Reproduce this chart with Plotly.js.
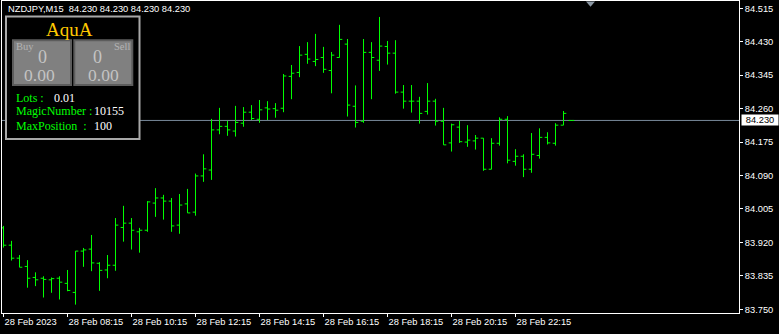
<!DOCTYPE html>
<html>
<head>
<meta charset="utf-8">
<script src="https://cdn.plot.ly/plotly-3.0.1.min.js"></script>
<style>html,body{margin:0;padding:0;background:#000;}#chart{width:779px;height:334px;}</style>
</head>
<body>
<div id="chart"></div>
<script>
// ---- data (NZDJPY, M15, 28 Feb 2023) ----
const times = ['06:15','06:30','06:45','07:00','07:15','07:30','07:45','08:00',
 '08:15','08:30','08:45','09:00','09:15','09:30','09:45','10:00',
 '10:15','10:30','10:45','11:00','11:15','11:30','11:45','12:00',
 '12:15','12:30','12:45','13:00','13:15','13:30','13:45','14:00',
 '14:15','14:30','14:45','15:00','15:15','15:30','15:45','16:00',
 '16:15','16:30','16:45','17:00','17:15','17:30','17:45','18:00',
 '18:15','18:30','18:45','19:00','19:15','19:30','19:45','20:00',
 '20:15','20:30','20:45','21:00','21:15','21:30','21:45','22:00',
 '22:15','22:30','22:45','23:00','23:15','23:30','23:45','00:00'];

const openP = [83.957,83.913,83.880,83.859,83.831,83.829,83.825,83.829,83.816,83.793,
 83.898,83.903,83.867,83.850,83.862,83.958,83.969,83.947,83.951,84.020,
 84.033,84.025,83.964,84.018,83.997,84.089,84.104,84.206,84.215,84.203,
 84.223,84.251,84.233,84.262,84.260,84.261,84.342,84.352,84.398,84.380,
 84.390,84.357,84.390,84.424,84.266,84.228,84.403,84.383,84.418,84.401,
 84.302,84.279,84.279,84.253,84.279,84.228,84.173,84.213,84.175,84.178,
 84.185,84.106,84.172,84.233,84.126,84.139,84.106,84.141,84.187,84.172,
 84.218,84.230];

const highP = [83.962,83.924,83.888,83.875,83.844,83.834,83.831,83.834,83.850,83.898,
 83.906,83.939,83.870,83.888,83.982,84.013,83.982,83.957,84.025,84.058,
 84.041,84.033,84.043,84.056,84.095,84.144,84.234,84.262,84.229,84.267,
 84.264,84.269,84.282,84.279,84.274,84.348,84.371,84.419,84.429,84.450,
 84.417,84.404,84.473,84.437,84.319,84.437,84.429,84.493,84.432,84.434,
 84.320,84.320,84.290,84.325,84.285,84.262,84.222,84.229,84.218,84.193,
 84.185,84.185,84.238,84.241,84.157,84.144,84.198,84.210,84.200,84.223,
 84.254,84.230];

const lowP = [83.907,83.874,83.857,83.805,83.809,83.780,83.792,83.775,83.796,83.762,
 83.858,83.847,83.797,83.829,83.848,83.922,83.902,83.894,83.947,83.985,
 83.978,83.947,83.942,83.995,83.988,84.074,84.079,84.195,84.191,84.189,
 84.214,84.231,84.224,84.231,84.237,84.251,84.284,84.340,84.374,84.368,
 84.351,84.299,84.390,84.240,84.212,84.224,84.284,84.356,84.372,84.298,
 84.260,84.250,84.222,84.245,84.217,84.168,84.151,84.173,84.163,84.156,
 84.102,84.106,84.166,84.121,84.115,84.086,84.097,84.133,84.169,84.166,
 84.218,84.230];

const closeP = [83.913,83.880,83.857,83.829,83.825,83.826,83.828,83.819,83.798,83.898,
 83.901,83.868,83.849,83.862,83.964,83.969,83.951,83.951,84.023,84.033,
 84.025,83.962,84.015,83.995,84.089,84.107,84.206,84.215,84.206,84.225,
 84.251,84.235,84.257,84.259,84.256,84.343,84.350,84.396,84.386,84.385,
 84.360,84.396,84.436,84.269,84.225,84.403,84.390,84.419,84.401,84.302,
 84.279,84.279,84.248,84.279,84.228,84.168,84.219,84.176,84.180,84.185,
 84.106,84.172,84.233,84.129,84.139,84.106,84.144,84.187,84.173,84.218,
 84.248,84.230];

const xTickVals = ['06:15','08:15','10:15','12:15','14:15','16:15','18:15','20:15','22:15'];
const xTickText = ['28 Feb 2023','28 Feb 08:15','28 Feb 10:15','28 Feb 12:15','28 Feb 14:15',
 '28 Feb 16:15','28 Feb 18:15','28 Feb 20:15','28 Feb 22:15'];
const yTickVals = [84.515,84.430,84.345,84.260,84.175,84.090,84.005,83.920,83.835,83.750];
const yTickText = ['84.515','84.430','84.345','84.260','84.175','84.090','84.005','83.920','83.835','83.750'];
const bidPrice = 84.230;
const headerText = 'NZDJPY,M15\u00a0\u00a084.230 84.230 84.230 84.230';

// ---- layout helpers (pixel -> paper) ----
const W = 779, H = 334, ML = 2, MR = 40, MT = 1, MB = 21;
const PW = W - ML - MR, PH = H - MT - MB;
const P = x => (x - ML) / PW;
const Q = y => (H - MB - y) / PH;

const sans = 'Liberation Sans, Arial, sans-serif';
const serif = 'Liberation Serif, Times New Roman, serif';
const green = '#00ff00';

function txt(t, x, y, size, color, fam, anchor) {
  return {text: t, x: P(x), y: Q(y), xref: 'paper', yref: 'paper', showarrow: false,
    xanchor: anchor || 'left', yanchor: 'middle', borderpad: 0,
    font: {family: fam || serif, size: size, color: color}};
}

const trace = {
  type: 'ohlc', x: times, open: openP, high: highP, low: lowP, close: closeP,
  increasing: {line: {color: green, width: 1}},
  decreasing: {line: {color: green, width: 1}},
  tickwidth: 0.35, hoverinfo: 'skip'
};

const layout = {
  width: W, height: H,
  margin: {l: ML, r: MR, t: MT, b: MB, pad: 0},
  paper_bgcolor: '#000', plot_bgcolor: '#000',
  showlegend: false,
  xaxis: {
    type: 'category', range: [-0.1875, PW / 8 - 0.1875],
    rangeslider: {visible: false},
    showgrid: false, zeroline: false,
    showline: true, linecolor: '#ffffff', linewidth: 1, mirror: true,
    ticks: 'outside', ticklen: 3, tickcolor: '#ffffff', tickwidth: 1,
    tickmode: 'array', tickvals: xTickVals, ticktext: xTickText,
    ticklabelposition: 'outside right',
    tickfont: {family: sans, size: 9.3, color: '#ffffff'}
  },
  yaxis: {
    side: 'right', range: [84.5361 - (H - MB) / 393.5, 84.5361 - MT / 393.5],
    showgrid: false, zeroline: false,
    showline: true, linecolor: '#ffffff', linewidth: 1, mirror: true,
    ticks: 'outside', ticklen: 3, tickcolor: '#ffffff', tickwidth: 1,
    tickmode: 'array', tickvals: yTickVals, ticktext: yTickText,
    tickfont: {family: sans, size: 9.3, color: '#ffffff'}
  },
  shapes: [
    {type: 'line', xref: 'paper', yref: 'y', x0: 0, x1: 1, y0: bidPrice, y1: bidPrice,
     line: {color: '#778899', width: 1}, layer: 'below'},
    {type: 'rect', xref: 'paper', yref: 'paper', x0: P(6), x1: P(139.5), y0: Q(139), y1: Q(16.5),
     line: {color: '#a8a8a8', width: 2}, fillcolor: '#000000', layer: 'above'},
    {type: 'rect', xref: 'paper', yref: 'paper', x0: P(13), x1: P(71), y0: Q(85), y1: Q(40.3),
     line: {color: '#5c5c5c', width: 2}, fillcolor: '#808080', layer: 'above'},
    {type: 'rect', xref: 'paper', yref: 'paper', x0: P(74.3), x1: P(132.3), y0: Q(85), y1: Q(40.3),
     line: {color: '#5c5c5c', width: 2}, fillcolor: '#808080', layer: 'above'},
    {type: 'path', xref: 'paper', yref: 'paper',
     path: 'M ' + P(586) + ' ' + Q(1.5) + ' L ' + P(595) + ' ' + Q(1.5) + ' L ' + P(590.5) + ' ' + Q(6.7) + ' Z',
     fillcolor: '#8c98a4', line: {width: 0}, layer: 'above'}
  ],
  annotations: [
    txt(headerText, 6.5, 9, 9.3, '#ffffff', sans),
    txt('AquA', 69.7, 29.5, 19, '#ffc800', serif, 'center'),
    txt('Buy', 14.5, 46.5, 10.5, '#b4b4b4'),
    txt('Sell', 131, 46.5, 10.5, '#b4b4b4', serif, 'right'),
    txt('0', 42.8, 57, 18, '#c4c4c4', serif, 'center'),
    txt('0.00', 39.7, 74.8, 17.5, '#c4c4c4', serif, 'center'),
    txt('0', 98, 57, 18, '#c4c4c4', serif, 'center'),
    txt('0.00', 103.3, 74.8, 17.5, '#c4c4c4', serif, 'center'),
    txt('Lots :', 15.2, 97.5, 12, green),
    txt('0.01', 52.8, 97.5, 12, '#ffffff'),
    txt('MagicNumber :', 15.2, 111.5, 12, green),
    txt('10155', 92.8, 111.5, 12, '#ffffff'),
    txt('MaxPosition\u00a0\u00a0:', 15.2, 125.8, 12, green),
    txt('100', 92.8, 125.8, 12, '#ffffff'),
    {text: bidPrice.toFixed(3), x: 1, y: bidPrice, xref: 'paper', yref: 'y', showarrow: false,
     xanchor: 'left', yanchor: 'middle', xshift: 1.5, width: 36, height: 10, borderpad: 0,
     bgcolor: '#ffffff', font: {family: sans, size: 9.3, color: '#000000'}}
  ]
};

Plotly.newPlot('chart', [trace], layout, {staticPlot: true, displayModeBar: false});
</script>
</body>
</html>
